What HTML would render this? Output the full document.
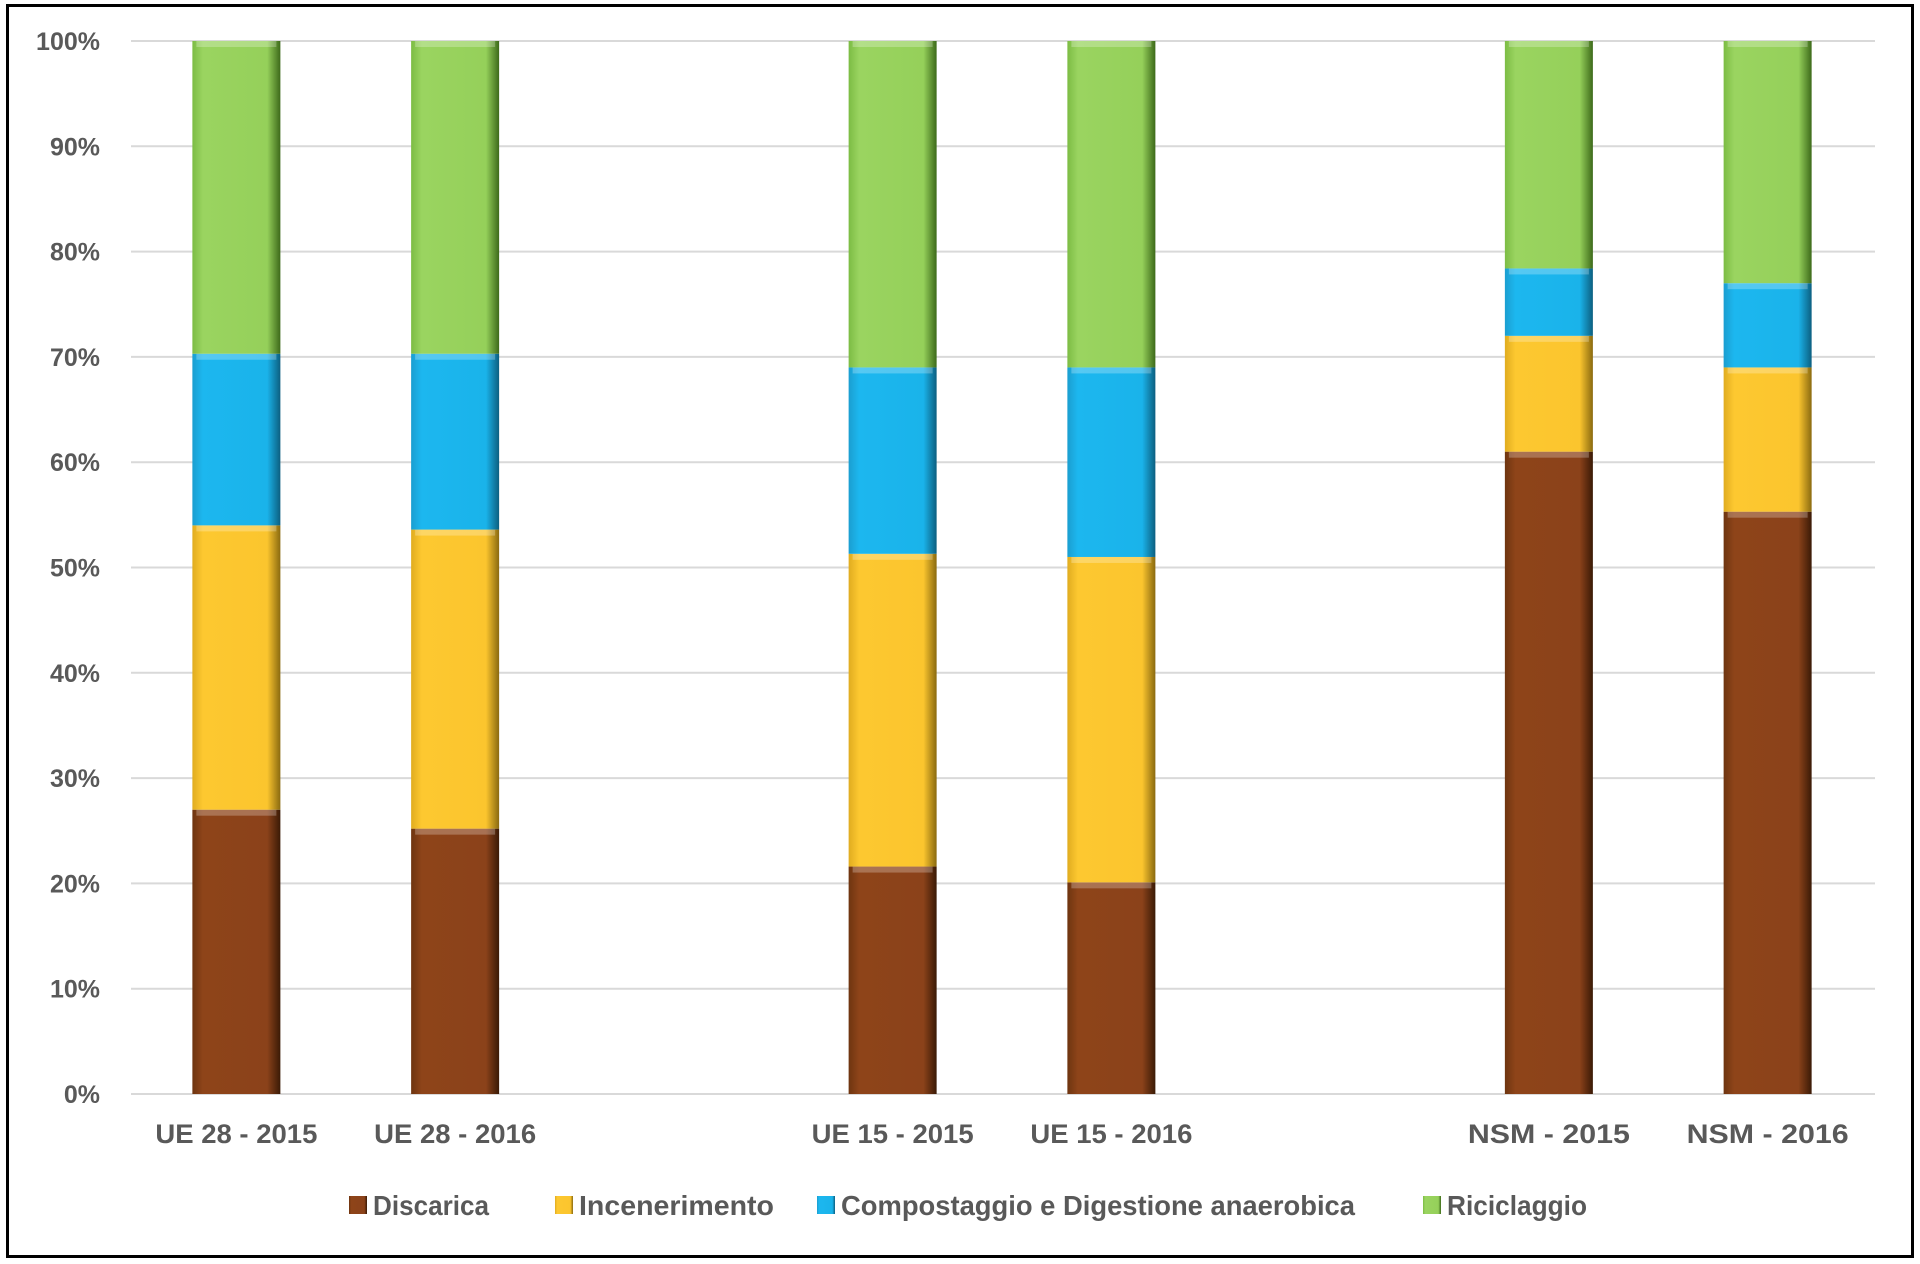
<!DOCTYPE html>
<html><head><meta charset="utf-8">
<style>
html,body{margin:0;padding:0;background:#fff;}
body{width:1920px;height:1264px;position:relative;overflow:hidden;font-family:"Liberation Sans",sans-serif;}
#frame{position:absolute;left:6px;top:4px;width:1902px;height:1248px;border:3px solid #000;box-sizing:content-box;}
</style></head>
<body>
<div id="frame"></div>
<svg id="chart" width="1920" height="1264" style="position:absolute;left:0;top:0">
<defs>
<linearGradient id="g0" x1="0" x2="1"><stop offset="0" stop-color="#6e3510"/><stop offset="0.12" stop-color="#8e4419"/><stop offset="0.85" stop-color="#8b421a"/><stop offset="1" stop-color="#3a1a06"/></linearGradient>
<linearGradient id="g1" x1="0" x2="1"><stop offset="0" stop-color="#e0ac20"/><stop offset="0.12" stop-color="#fdc830"/><stop offset="0.85" stop-color="#fbc52e"/><stop offset="1" stop-color="#8a6a10"/></linearGradient>
<linearGradient id="g2" x1="0" x2="1"><stop offset="0" stop-color="#1b9ed0"/><stop offset="0.12" stop-color="#1cb7ef"/><stop offset="0.85" stop-color="#1ab3ea"/><stop offset="1" stop-color="#0c5f80"/></linearGradient>
<linearGradient id="g3" x1="0" x2="1"><stop offset="0" stop-color="#7cbc44"/><stop offset="0.12" stop-color="#9ad460"/><stop offset="0.85" stop-color="#95d05a"/><stop offset="1" stop-color="#3d6a1a"/></linearGradient>
</defs>
<g id="grid"></g><g id="bars"></g><g id="labels"></g><g id="legend"></g>
</svg>
<script>
const categories = ["UE 28 - 2015","UE 28 - 2016","","UE 15 - 2015","UE 15 - 2016","","NSM - 2015","NSM - 2016"];
const seriesNames = ["Discarica","Incenerimento","Compostaggio e Digestione anaerobica","Riciclaggio"];
const discarica =     [27.0, 25.2, null, 21.6, 20.1, null, 61.0, 55.3];
const incenerimento = [27.0, 28.4, null, 29.7, 30.9, null, 11.0, 13.7];
const compostaggio =  [16.3, 16.7, null, 17.7, 18.0, null, 6.4, 8.0];
const riciclaggio =   [29.7, 29.7, null, 31.0, 31.0, null, 21.6, 23.0];
const yTicks = [0,10,20,30,40,50,60,70,80,90,100];

const NS="http://www.w3.org/2000/svg";
const X0=127, X1=1877, Y0=1094, Y1=41;
const gridX0=131, gridX1=1875;
const slot=(X1-X0)/categories.length, barW=88;
const y=v=>Y0-(v/100)*(Y0-Y1);
const xc=i=>X0+slot*(i+0.5);
function mk(tag,attrs,parent){const e=document.createElementNS(NS,tag);for(const k in attrs)e.setAttribute(k,attrs[k]);parent.appendChild(e);return e;}
const grid=document.getElementById('grid'),bars=document.getElementById('bars'),labels=document.getElementById('labels'),legend=document.getElementById('legend');
yTicks.forEach(t=>{
  const l=mk('line',{x1:gridX0,x2:gridX1,y1:y(t),y2:y(t),stroke:'#d9d9d9','stroke-width':2},grid);
  
  
  const tx=mk('text',{x:100,y:y(t)+9,'text-anchor':'end','font-size':25,'font-weight':'bold',fill:'#595959','font-family':'Liberation Sans, sans-serif'},labels);
  tx.textContent=t+'%';
  
  
});
const series=[discarica,incenerimento,compostaggio,riciclaggio];
categories.forEach((c,i)=>{
  if(!c)return;
  let acc=0;
  series.forEach((s,k)=>{
    const v=s[i];const top=y(acc+v),bot=y(acc);
    const r=mk('rect',{x:xc(i)-barW/2,y:top,width:barW,height:bot-top,fill:'url(#g'+k+')'},bars);
    
    
    mk('rect',{x:xc(i)-barW/2+4,y:top,width:barW-8,height:Math.min(6,bot-top),fill:'#fff',opacity:0.25},bars);
    acc+=v;
  });
  const t=mk('text',{x:xc(i),y:1143,'text-anchor':'middle','font-size':27,'font-weight':'bold',fill:'#595959','font-family':'Liberation Sans, sans-serif','textLength':162,'lengthAdjust':'spacingAndGlyphs'},labels);
  t.textContent=c;
  
  
});
const legX=[349,555,817,1423];
const legW=[116,195,514,140];
seriesNames.forEach((n,k)=>{
  const r=mk('rect',{x:legX[k],y:1196,width:18,height:18,fill:'url(#g'+k+')'},legend);
  
  
  const t=mk('text',{x:legX[k]+24,y:1215,'font-size':28,'font-weight':'bold',fill:'#595959','font-family':'Liberation Sans, sans-serif','textLength':legW[k],'lengthAdjust':'spacingAndGlyphs'},legend);
  t.textContent=n;
  
  
});
</script>
</body></html>
